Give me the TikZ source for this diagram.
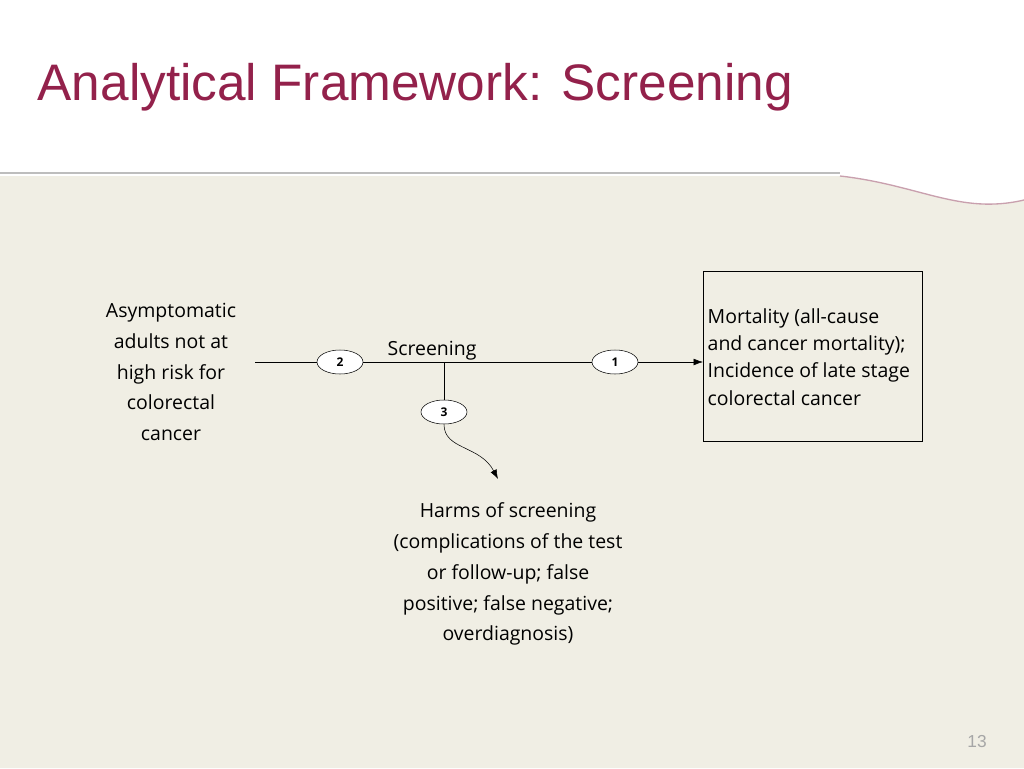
\documentclass[tikz,border=0pt]{standalone}
\usepackage{fontspec}
\setmainfont{Open Sans}
\newfontfamily\titlefont{Liberation Sans}
\usetikzlibrary{arrows.meta}
\definecolor{beige}{HTML}{F0EEE4}
\definecolor{titlered}{HTML}{93214B}
\definecolor{rule}{HTML}{BDBDBD}
\definecolor{pinkline}{HTML}{C9A0AE}
\tikzset{
  >={Latex[length=7pt,width=5pt]},
  num/.style = {ellipse, draw, fill=white, minimum width=46\unit, minimum height=24\unit,
                inner sep=0, font=\fontsize{9}{10}\selectfont\bfseries},
  body/.style = {font=\fontsize{14.6}{23.2}\selectfont, align=center},
  outbox/.style = {draw, minimum width=219\unit, minimum height=170\unit, anchor=north west},
}
\newlength{\unit}\setlength{\unit}{0.75pt}
\usetikzlibrary{shapes.geometric}
\begin{document}
\begin{tikzpicture}[x=0.75pt,y=-0.75pt]
\useasboundingbox (0,0) rectangle (1024,768);
\fill[beige] (0,176) -- (840,176) .. controls (920,185) and (960,215) .. (1024,200) -- (1024,768) -- (0,768) -- cycle;
\draw[rule, line width=1.2pt] (0,173) -- (840,173);
\draw[pinkline, line width=1pt] (840,176) .. controls (920,185) and (960,215) .. (1024,200);
\node[anchor=west, text=titlered, font=\titlefont\fontsize{38.5}{40}\selectfont] (title) at (33,87) {Analytical Framework: Screening};

\node[body] (pop) at (171,372) {Asymptomatic\\adults not at\\high risk for\\colorectal\\cancer};
\coordinate (start) at (255,362);
\node[outbox] (out) at (703,271) {};
\node[anchor=west, align=left, font=\fontsize{14.6}{20.5}\selectfont] (outtxt) at (703,357)
  {Mortality (all-cause\\and cancer mortality);\\Incidence of late stage\\colorectal cancer};
\draw[->] (start) -- (out.west |- start);
\node[num] (k2) at (340,362) {2};
\node[num] (k1) at (615,362) {1};
\node[font=\fontsize{14.6}{16}\selectfont] (scr) at (432,351) {Screening};
\coordinate (branch) at (444,362);
\node[num] (k3) at (444,412) {3};
\draw (branch) -- (k3);
\coordinate (harmend) at (498,479);
\draw[->] (k3.south) .. controls (444,450) and (480,445) .. (harmend);
\node[body] (harms) at (508,574) {Harms of screening\\(complications of the test\\or follow-up; false\\positive; false negative;\\overdiagnosis)};
\node[text=gray!70, font=\titlefont\fontsize{13}{14}\selectfont] (page) at (977,742) {13};
\end{tikzpicture}
\end{document}
